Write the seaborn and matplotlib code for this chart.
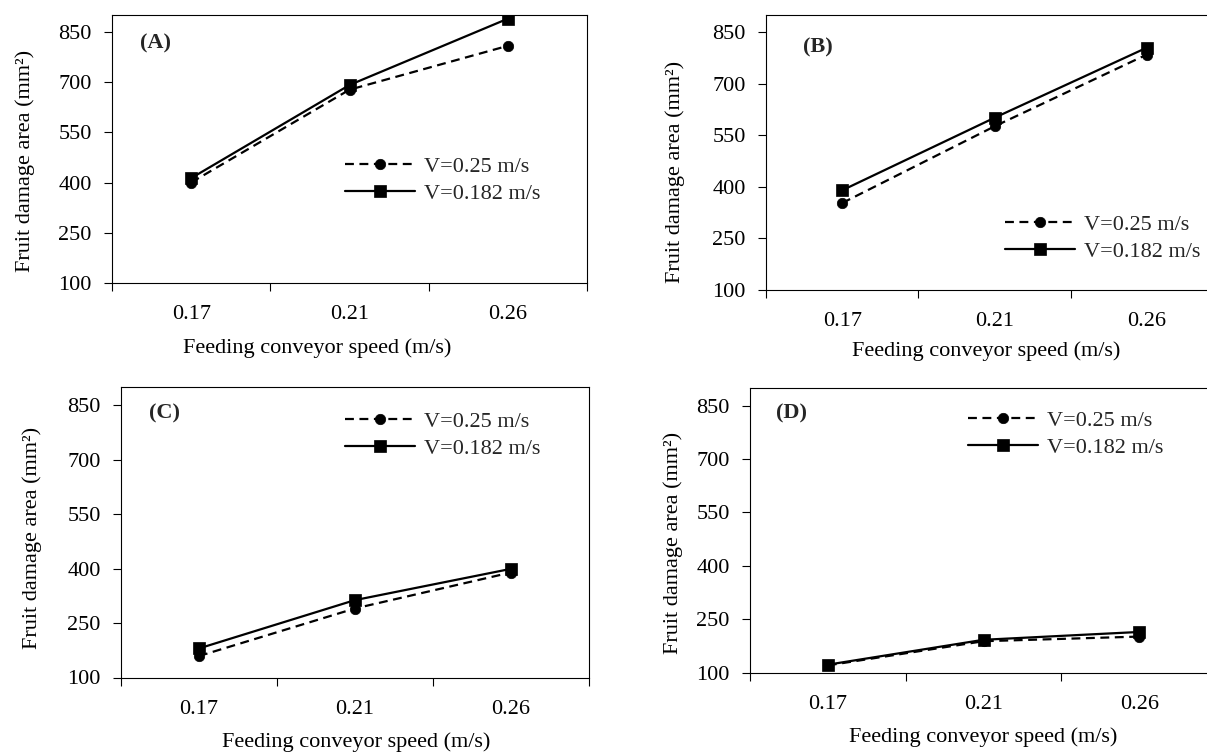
import matplotlib
matplotlib.use('Agg')
import matplotlib.pyplot as plt
import numpy as np
import pandas as pd
import seaborn as sns

# data
speeds = ['0.17', '0.21', '0.26']
series = ['V=0.25 m/s', 'V=0.182 m/s']
panels = ['(A)', '(B)', '(C)', '(D)']

a_v25 = [400, 677, 808]
a_v182 = [413, 691, 889]
b_v25 = [353, 576, 785]
b_v182 = [390, 601, 805]
c_v25 = [159, 290, 389]
c_v182 = [180, 313, 399]
d_v25 = [120, 188, 201]
d_v182 = [122, 192, 214]

y_ticks = [100, 250, 400, 550, 700, 850]

values = {'(A)': (a_v25, a_v182), '(B)': (b_v25, b_v182),
          '(C)': (c_v25, c_v182), '(D)': (d_v25, d_v182)}

rows = []
for name, (v1, v2) in values.items():
    for i, s in enumerate(speeds):
        rows.append({'panel': name, 'pos': i, 'speed': s, 'series': series[0], 'area': v1[i]})
        rows.append({'panel': name, 'pos': i, 'speed': s, 'series': series[1], 'area': v2[i]})
df = pd.DataFrame(rows)

W, H = 1207, 753

# pixel layout: axes box (left, right, top, bottom), tag, xlabel centre, ylabel centre, legend anchor
layout = {
    '(A)': dict(box=(112, 587, 15, 283), tag=(140, 43), xl=(317, 348), yl=(25, 161), leg=(345, 180)),
    '(B)': dict(box=(766, 1223, 15, 290), tag=(803, 47), xl=(986, 351), yl=(675, 172), leg=(1005, 238)),
    '(C)': dict(box=(121, 588.5, 387, 677.5), tag=(149, 413), xl=(356, 742), yl=(32, 538), leg=(345, 435)),
    '(D)': dict(box=(750, 1217, 388, 672.5), tag=(776, 413), xl=(983, 737), yl=(673, 543), leg=(968, 434)),
}

sns.set_theme(style='ticks')
plt.rcParams['font.family'] = ['Liberation Serif', 'DejaVu Serif']

fig = plt.figure(figsize=(W / 100, H / 100), dpi=100)


def fig_xy(x, y):
    return x / W, 1 - y / H


for name in panels:
    lay = layout[name]
    l, r, t, b = lay['box']
    ax = fig.add_axes([l / W, 1 - b / H, (r - l) / W, (b - t) / H])
    sns.lineplot(data=df[df.panel == name], x='pos', y='area', style='series',
                 style_order=series, markers={series[0]: 'o', series[1]: 's'},
                 dashes={series[0]: (4, 2.5), series[1]: ''}, color='black',
                 lw=1.6, markersize=7.5, markeredgecolor='black', mew=0.5,
                 ax=ax, legend=False)
    ax.lines[1].set_markersize(8.5)

    ax.set_xlim(-0.5, 2.5)
    ax.set_ylim(100, 900)
    ax.set_yticks(y_ticks)
    ax.set_xticks(range(len(speeds)))
    ax.set_xticklabels(speeds)
    ax.set_xticks([-0.5, 0.5, 1.5, 2.5], minor=True)
    ax.tick_params(axis='x', which='major', length=0, pad=16, labelsize=16, colors='black')
    ax.tick_params(axis='x', which='minor', length=5.5, width=0.8, direction='out', color='black')
    ax.tick_params(axis='y', length=5.5, width=0.8, direction='out', pad=9, labelsize=16, colors='black')
    for sp in ax.spines.values():
        sp.set_color('black')
        sp.set_linewidth(0.8)

    ax.set_xlabel('Feeding conveyor speed (m/s)', fontsize=16, color='black')
    ax.set_ylabel('Fruit damage area (mm²)', fontsize=16, color='black')
    ax.xaxis.label.set_va('center')
    ax.yaxis.label.set_va('center')
    ax.xaxis.set_label_coords(*fig_xy(*lay['xl']), transform=fig.transFigure)
    ax.yaxis.set_label_coords(*fig_xy(*lay['yl']), transform=fig.transFigure)

    ax.legend(ax.lines[:2], series, loc='center left', bbox_to_anchor=fig_xy(*lay['leg']),
              bbox_transform=fig.transFigure, frameon=False, borderpad=0, borderaxespad=0,
              handlelength=3.15, handletextpad=0.4, labelspacing=0.3, fontsize=16)

    fig.text(*fig_xy(*lay['tag']), name, fontsize=16, fontweight='bold', va='center', ha='left')

fig.savefig('out.png', dpi=100)
